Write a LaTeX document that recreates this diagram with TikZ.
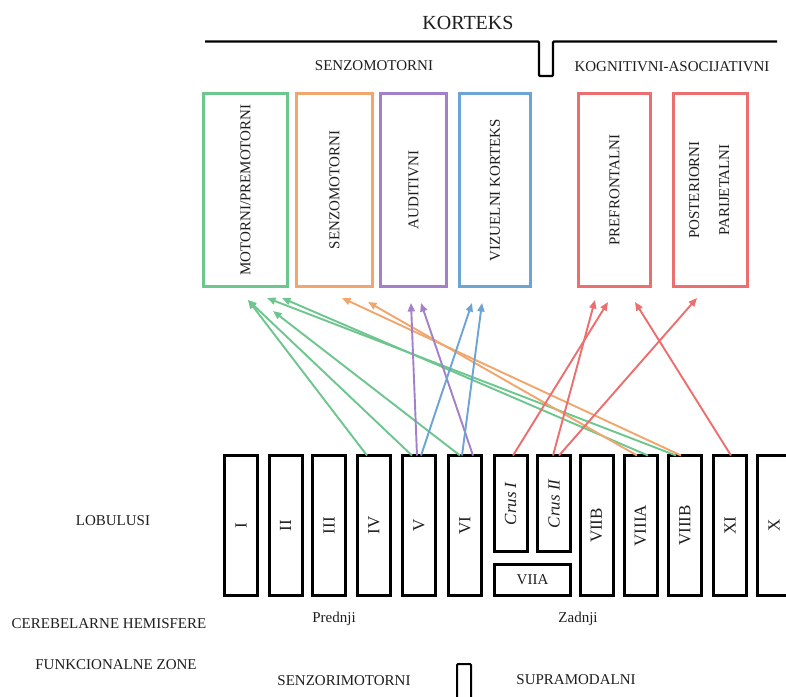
\documentclass[tikz,border=0pt]{standalone}
\usepackage{fontspec}
\usepackage{graphicx}
\setmainfont{Liberation Serif}
\usetikzlibrary{arrows.meta,calc}
\definecolor{cgreen}{RGB}{108,198,142}
\definecolor{corange}{RGB}{240,166,108}
\definecolor{cpurple}{RGB}{164,128,200}
\definecolor{cblue}{RGB}{108,164,214}
\definecolor{cred}{RGB}{236,110,110}
\definecolor{ink}{RGB}{30,30,30}

\begin{document}
\begin{tikzpicture}[x=1pt,y=-1pt,
  txt/.style={text=ink, inner sep=0pt, font=\fontsize{15}{18}\selectfont},
  area/.style={draw=#1, line width=2.8pt, minimum height=193pt, inner sep=0pt, outer sep=0pt, txt},
  lob/.style={draw=black, line width=3pt, minimum width=33pt, minimum height=140pt, inner sep=0pt, outer sep=0pt, txt},
  vlab/.style={font=\fontsize{17}{20}\selectfont},
  proj/.style={draw=#1, line width=1.9pt, -{Triangle[length=8.5pt,width=7pt]}},
  brace/.style={draw=black, line width=2.2pt, rounded corners=1pt},
]
\useasboundingbox[fill=white] (0,0) rectangle (786,696);

% headings
\node[txt, font=\fontsize{20}{24}\selectfont] (kort) at (468,23) {KORTEKS};
\draw[brace] (205,41.5) -- (539,41.5) -- (539,76) -- (553,76) -- (553,41.5) -- (777,41.5);
\node[txt] (sm) at (374,66) {SENZOMOTORNI};
\node[txt] (ka) at (672,67) {KOGNITIVNI-ASOCIJATIVNI};

% cortical areas
\node[area=cgreen,  minimum width=84pt] (mot) at (245.5,190) {\rotatebox{90}{MOTORNI/PREMOTORNI}};
\node[area=corange, minimum width=76pt] (sen) at (334.5,190) {\rotatebox{90}{SENZOMOTORNI}};
\node[area=cpurple, minimum width=66pt] (aud) at (413.5,190) {\rotatebox{90}{AUDITIVNI}};
\node[area=cblue,   minimum width=71pt] (viz) at (495,190)   {\rotatebox{90}{VIZUELNI KORTEKS}};
\node[area=cred,    minimum width=72pt] (pre) at (614.5,190) {\rotatebox{90}{PREFRONTALNI}};
\node[area=cred,    minimum width=74pt] (par) at (710.5,190) {\rotatebox{90}{\begin{tabular}{@{}c@{}}POSTERIORNI\\[12pt]PARIJETALNI\end{tabular}}};

% cerebellar lobules
\node[lob, vlab] (l1)  at (241,525.5)   {\rotatebox{90}{I}};
\node[lob, vlab] (l2)  at (285.5,525.5) {\rotatebox{90}{II}};
\node[lob, vlab] (l3)  at (329,525.5)   {\rotatebox{90}{III}};
\node[lob, vlab] (l4)  at (374,525.5)   {\rotatebox{90}{IV}};
\node[lob, vlab] (l5)  at (419,525.5)   {\rotatebox{90}{V}};
\node[lob, vlab] (l6)  at (465,525.5)   {\rotatebox{90}{VI}};
\node[lob, vlab, minimum height=96pt] (c1) at (510.5,503.5) {\rotatebox{90}{\textit{Crus I}}};
\node[lob, vlab, minimum height=96pt] (c2) at (554,503.5)   {\rotatebox{90}{\textit{Crus II}}};
\node[lob, minimum width=76pt, minimum height=31pt] (l7a) at (532.5,580) {VIIA};
\node[lob, vlab] (l7b) at (596.5,525.5) {\rotatebox{90}{VIIB}};
\node[lob, vlab] (l8a) at (640.5,525.5) {\rotatebox{90}{VIIIA}};
\node[lob, vlab] (l8b) at (685,525.5)   {\rotatebox{90}{VIIIB}};
\node[lob, vlab] (l11) at (730,525.5)   {\rotatebox{90}{XI}};
\node[lob, vlab] (l10) at (774,525.5)   {\rotatebox{90}{X}};

% row labels
\node[txt] (lobl) at (113,521) {LOBULUSI};
\node[txt] (heml) at (109,624) {CEREBELARNE HEMISFERE};
\node[txt] (funl) at (116,665) {FUNKCIONALNE ZONE};
\node[txt] (ant)  at (334,619) {Prednji};
\node[txt] (post) at (578,619) {Zadnji};
\node[txt] (szm)  at (344,681) {SENZORIMOTORNI};
\node[txt] (sup)  at (576,680) {SUPRAMODALNI};
\draw[brace, line width=2pt] (457,702) -- (457,664) -- (471,664) -- (471,702);

% projections to motor/premotor cortex
\draw[proj=cgreen] ($(l4.north)+(-7,0)$)  -- ($(mot.south)+(2.5,13.5)$);
\draw[proj=cgreen] ($(l5.north)+(-7,0)$)  -- ($(mot.south)+(2.5,13.5)$);
\draw[proj=cgreen] ($(l6.north)+(-5,0)$)  -- ($(mot.south)+(27.5,24.5)$);
\draw[proj=cgreen] ($(l8a.north)+(7.5,0)$) -- ($(mot.south)+(36.5,11.5)$);
\draw[proj=cgreen] ($(l8b.north)+(-9,0)$)  -- ($(mot.south)+(21.5,11.5)$);
% projections to somatosensory cortex
\draw[proj=corange] ($(l8a.north)+(-3.5,0)$) -- ($(sen.south)+(33.5,15.5)$);
\draw[proj=corange] ($(l8b.north)+(-4,0)$)   -- ($(sen.south)+(7.5,11.5)$);
% projections to auditory cortex
\draw[proj=cpurple] ($(l5.north)+(-2,0)$) -- ($(aud.south)+(-2.5,16.5)$);
\draw[proj=cpurple] ($(l6.north)+(8,0)$)  -- ($(aud.south)+(7.5,16.5)$);
% projections to visual cortex
\draw[proj=cblue] ($(l5.north)+(2,0)$)  -- ($(viz.south)+(-23,16.5)$);
\draw[proj=cblue] ($(l6.north)+(-3,0)$) -- ($(viz.south)+(-13,16.5)$);
% projections to association cortex
\draw[proj=cred] ($(c1.north)+(2.5,0)$) -- ($(pre.south)+(-6.5,15.5)$);
\draw[proj=cred] ($(c2.north)+(-1,0)$)  -- ($(pre.south)+(-19.5,13.5)$);
\draw[proj=cred] ($(c2.north)+(5,0)$)   -- ($(par.south)+(-13.5,11.5)$);
\draw[proj=cred] ($(l11.north)+(1,0)$)  -- ($(pre.south)+(20.5,15.5)$);
\end{tikzpicture}
\end{document}
